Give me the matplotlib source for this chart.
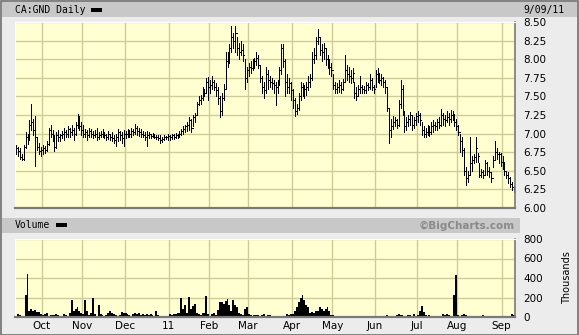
import numpy as np
import pandas as pd
import matplotlib
matplotlib.use("Agg")
import matplotlib.pyplot as plt
from matplotlib.patches import Rectangle

# trading days shown (one bar per business day)
dates = pd.bdate_range("2010-09-13", "2011-09-09")

high = [
    6.85, 6.82, 6.80, 6.72, 6.85, 7.02, 7.00, 7.18, 7.40, 7.20,
    7.24, 6.95, 6.88, 6.82, 6.85, 6.84, 6.90, 7.08, 7.12, 7.05,
    6.98, 7.02, 7.05, 7.00, 7.04, 7.08, 7.05, 7.10, 7.08, 7.12,
    7.08, 7.15, 7.26, 7.24, 7.15, 7.12, 7.06, 7.05, 7.08, 7.06,
    7.04, 7.05, 7.08, 7.02, 7.04, 7.06, 7.02, 7.00, 7.03, 7.00,
    7.02, 6.98, 7.00, 7.06, 7.04, 7.02, 7.05, 7.04, 7.06, 7.05,
    7.08, 7.06, 7.13, 7.10, 7.08, 7.06, 7.04, 7.02, 7.04, 7.02,
    7.00, 7.01, 7.00, 6.98, 6.98, 6.98, 6.96, 6.98, 6.97, 7.00,
    6.98, 7.00, 6.99, 7.01, 7.00, 7.03, 7.06, 7.10, 7.12, 7.15,
    7.22, 7.20, 7.25, 7.28, 7.43, 7.50, 7.52, 7.62, 7.60, 7.75,
    7.76, 7.72, 7.78, 7.72, 7.68, 7.62, 7.50, 7.55, 7.67, 8.10,
    8.10, 8.20, 8.45, 8.35, 8.45, 8.30, 8.22, 8.25, 8.20, 8.00,
    7.90, 7.95, 7.98, 8.00, 8.02, 8.10, 8.05, 7.92, 7.78, 7.70,
    7.90, 7.85, 7.78, 7.75, 7.72, 7.70, 7.72, 7.90, 8.20, 8.20,
    8.00, 7.80, 7.75, 7.70, 7.60, 7.48, 7.40, 7.55, 7.70, 7.68,
    7.65, 7.70, 7.78, 7.80, 8.10, 8.15, 8.30, 8.40, 8.30, 8.20,
    8.22, 8.15, 8.05, 8.00, 7.95, 7.80, 7.70, 7.68, 7.72, 7.70,
    7.74, 8.06, 7.92, 7.90, 7.85, 7.88, 7.70, 7.62, 7.65, 7.78,
    7.65, 7.64, 7.70, 7.68, 7.80, 7.75, 7.65, 7.85, 7.88, 7.82,
    7.80, 7.76, 7.72, 7.62, 7.35, 7.20, 7.24, 7.22, 7.20, 7.45,
    7.72, 7.65, 7.30, 7.22, 7.25, 7.29, 7.25, 7.22, 7.28, 7.30,
    7.28, 7.15, 7.10, 7.08, 7.12, 7.10, 7.15, 7.18, 7.15, 7.20,
    7.22, 7.33, 7.28, 7.25, 7.30, 7.28, 7.32, 7.30, 7.26, 7.20,
    7.12, 7.00, 6.95, 6.80, 6.55, 6.50, 6.95, 6.70, 6.72, 6.95,
    6.74, 6.60, 6.52, 6.51, 6.65, 6.62, 6.55, 6.48, 6.70, 6.90,
    6.80, 6.75, 6.74, 6.70, 6.62, 6.50, 6.48, 6.42, 6.35, 6.30,
]

low = [
    6.72, 6.70, 6.66, 6.65, 6.65, 6.80, 6.86, 6.92, 7.05, 6.98,
    6.56, 6.78, 6.72, 6.70, 6.72, 6.74, 6.76, 6.85, 6.95, 6.90,
    6.76, 6.80, 6.90, 6.90, 6.94, 6.92, 6.95, 6.96, 6.95, 6.98,
    6.92, 6.98, 7.08, 7.05, 6.98, 6.96, 6.95, 6.92, 6.95, 6.96,
    6.94, 6.95, 6.92, 6.93, 6.95, 6.96, 6.94, 6.92, 6.93, 6.92,
    6.90, 6.88, 6.84, 6.90, 6.92, 6.88, 6.83, 6.94, 6.95, 6.96,
    6.96, 6.98, 7.00, 6.98, 6.97, 6.95, 6.96, 6.92, 6.83, 6.94,
    6.94, 6.95, 6.94, 6.93, 6.92, 6.88, 6.89, 6.92, 6.93, 6.92,
    6.92, 6.93, 6.93, 6.94, 6.94, 6.95, 6.98, 7.00, 7.02, 7.04,
    7.05, 7.02, 7.10, 7.16, 7.25, 7.38, 7.40, 7.45, 7.50, 7.55,
    7.45, 7.55, 7.60, 7.58, 7.50, 7.40, 7.22, 7.25, 7.45, 7.60,
    7.90, 7.95, 8.10, 8.15, 8.10, 8.05, 8.00, 8.05, 7.98, 7.60,
    7.70, 7.78, 7.82, 7.85, 7.88, 7.92, 7.88, 7.70, 7.55, 7.48,
    7.55, 7.60, 7.62, 7.60, 7.55, 7.38, 7.55, 7.65, 7.80, 7.90,
    7.50, 7.55, 7.55, 7.45, 7.35, 7.24, 7.26, 7.32, 7.45, 7.50,
    7.48, 7.52, 7.58, 7.62, 7.72, 7.95, 8.00, 8.20, 8.05, 7.98,
    8.00, 7.92, 7.88, 7.80, 7.78, 7.60, 7.54, 7.55, 7.56, 7.55,
    7.58, 7.70, 7.72, 7.70, 7.68, 7.70, 7.48, 7.45, 7.50, 7.55,
    7.55, 7.55, 7.55, 7.58, 7.60, 7.58, 7.55, 7.62, 7.70, 7.68,
    7.65, 7.62, 7.55, 7.30, 6.88, 6.95, 7.06, 7.10, 7.08, 7.10,
    7.35, 7.25, 7.02, 7.05, 7.10, 7.12, 7.05, 7.08, 7.12, 7.15,
    7.12, 6.98, 6.95, 6.96, 6.98, 6.97, 7.00, 7.02, 7.05, 7.05,
    7.08, 7.10, 7.12, 7.10, 7.15, 7.12, 7.15, 7.18, 7.10, 7.05,
    6.98, 6.75, 6.70, 6.45, 6.31, 6.35, 6.45, 6.50, 6.60, 6.62,
    6.62, 6.42, 6.42, 6.40, 6.45, 6.45, 6.42, 6.35, 6.55, 6.65,
    6.66, 6.60, 6.56, 6.52, 6.45, 6.40, 6.34, 6.28, 6.24, 6.22,
]

close = [
    6.80, 6.76, 6.68, 6.66, 6.82, 6.95, 6.92, 7.12, 7.15, 7.05,
    6.95, 6.82, 6.76, 6.78, 6.80, 6.78, 6.86, 7.05, 7.00, 6.95,
    6.82, 6.98, 6.95, 6.98, 7.00, 7.02, 7.00, 7.06, 7.02, 7.05,
    7.00, 7.12, 7.18, 7.10, 7.05, 7.00, 7.02, 6.98, 7.04, 7.00,
    6.98, 7.00, 6.96, 6.98, 7.00, 7.02, 6.98, 6.96, 6.99, 6.95,
    6.94, 6.92, 6.95, 7.02, 6.98, 6.94, 7.00, 7.00, 7.02, 7.00,
    7.04, 7.02, 7.08, 7.04, 7.02, 7.00, 6.98, 6.96, 6.98, 6.99,
    6.97, 6.98, 6.96, 6.95, 6.94, 6.92, 6.93, 6.95, 6.96, 6.97,
    6.95, 6.98, 6.96, 6.98, 6.97, 7.00, 7.04, 7.06, 7.10, 7.12,
    7.18, 7.08, 7.22, 7.25, 7.40, 7.45, 7.48, 7.58, 7.55, 7.70,
    7.62, 7.65, 7.70, 7.62, 7.58, 7.48, 7.30, 7.48, 7.60, 7.98,
    8.05, 8.15, 8.30, 8.25, 8.35, 8.15, 8.10, 8.12, 8.05, 7.75,
    7.85, 7.90, 7.88, 7.95, 7.98, 8.02, 7.92, 7.75, 7.62, 7.58,
    7.80, 7.72, 7.70, 7.68, 7.65, 7.62, 7.68, 7.85, 8.15, 7.98,
    7.70, 7.62, 7.68, 7.58, 7.45, 7.30, 7.35, 7.50, 7.62, 7.58,
    7.60, 7.62, 7.70, 7.75, 8.00, 8.05, 8.25, 8.30, 8.12, 8.10,
    8.15, 8.00, 7.95, 7.90, 7.85, 7.65, 7.60, 7.62, 7.65, 7.60,
    7.70, 7.85, 7.80, 7.78, 7.75, 7.82, 7.55, 7.50, 7.60, 7.62,
    7.60, 7.58, 7.65, 7.62, 7.72, 7.62, 7.60, 7.80, 7.78, 7.72,
    7.75, 7.70, 7.62, 7.35, 7.05, 7.10, 7.15, 7.18, 7.12, 7.40,
    7.60, 7.30, 7.10, 7.15, 7.20, 7.25, 7.12, 7.18, 7.24, 7.25,
    7.18, 7.05, 7.00, 7.02, 7.05, 7.02, 7.10, 7.12, 7.10, 7.15,
    7.12, 7.25, 7.20, 7.18, 7.22, 7.20, 7.25, 7.24, 7.15, 7.10,
    7.02, 6.90, 6.78, 6.50, 6.40, 6.45, 6.60, 6.65, 6.68, 6.80,
    6.70, 6.45, 6.48, 6.45, 6.60, 6.50, 6.48, 6.40, 6.65, 6.75,
    6.72, 6.72, 6.62, 6.62, 6.50, 6.45, 6.40, 6.32, 6.28, 6.25,
]

# volume in thousands
volume = [
    15, 35, 20, 10, 15, 225, 445, 60, 80, 65,
    70, 55, 50, 30, 20, 35, 40, 15, 20, 25,
    25, 30, 20, 10, 15, 35, 20, 15, 40, 170,
    60, 80, 100, 60, 40, 30, 170, 60, 20, 40,
    195, 30, 15, 125, 30, 20, 15, 25, 40, 60,
    45, 30, 20, 15, 25, 55, 45, 40, 35, 20,
    15, 30, 45, 30, 40, 25, 30, 20, 35, 25,
    30, 20, 15, 60, 25, 15, 10, 10, 5, 5,
    30, 25, 35, 30, 45, 40, 195, 80, 120, 40,
    205, 80, 110, 135, 40, 30, 25, 40, 45, 215,
    30, 10, 35, 40, 20, 70, 150, 150, 135, 160,
    180, 120, 60, 170, 120, 100, 40, 30, 20, 80,
    105, 30, 20, 15, 20, 25, 20, 15, 20, 30,
    15, 25, 20, 10, 15, 10, 5, 5, 5, 10,
    15, 30, 20, 30, 35, 60, 100, 150, 190, 225,
    170, 120, 100, 40, 50, 45, 65, 60, 100, 80,
    60, 80, 100, 60, 20, 20, 15, 10, 5, 5,
    10, 5, 5, 5, 10, 5, 5, 10, 5, 5,
    10, 5, 5, 10, 5, 5, 5, 5, 10, 5,
    5, 10, 15, 20, 15, 10, 5, 10, 20, 30,
    25, 20, 10, 15, 25, 20, 10, 30, 15, 20,
    60, 110, 55, 20, 10, 25, 15, 10, 5, 5,
    10, 15, 35, 25, 35, 20, 10, 5, 225, 427,
    20, 15, 25, 30, 20, 10, 5, 5, 5, 5,
    10, 5, 5, 20, 5, 5, 5, 5, 5, 5,
    5, 5, 5, 5, 5, 10, 5, 5, 35, 20,
]

month_labels = ["Oct", "Nov", "Dec", "11", "Feb", "Mar", "Apr", "May",
                "Jun", "Jul", "Aug", "Sep"]
price_ticks = [6.00, 6.25, 6.50, 6.75, 7.00, 7.25, 7.50, 7.75, 8.00, 8.25, 8.50]
volume_ticks = [0, 200, 400, 600, 800]

W, H = 579, 335
BG = "#ECECEC"
BAR = "#C8C8C8"
PLOT_BG = "#FFFFD2"
GRID = "#CCCC99"


def box(x0, y0, x1, y1):
    # pixel box (top-left origin) -> figure fraction rect
    return [x0 / W, 1 - y1 / H, (x1 - x0) / W, (y1 - y0) / H]


def fig_rect(fig, x0, y0, x1, y1, color, **kw):
    l, b, w, h = box(x0, y0, x1, y1)
    fig.patches.append(Rectangle((l, b), w, h, transform=fig.transFigure,
                                 facecolor=color, edgecolor="none", **kw))


x = np.arange(len(dates))
month_idx = [i for i in range(1, len(dates)) if dates[i].month != dates[i - 1].month]
month_pos = [i - 0.5 for i in month_idx]

fig = plt.figure(figsize=(W / 100, H / 100), dpi=100)
fig.patch.set_facecolor(BG)

# header bars
fig_rect(fig, 2, 2, 577, 17, BAR)
fig_rect(fig, 2, 218, 520, 233, BAR)
fig_rect(fig, 91, 8, 102, 12, "black")
fig_rect(fig, 56, 223, 67, 227, "black")

# outer frame
fig.patches.append(Rectangle((0.5 / W, 0.5 / H), 1 - 1.5 / W, 1 - 1.5 / H,
                             transform=fig.transFigure, facecolor="none",
                             edgecolor="#707070", lw=1.2))

fig.text(15 / W, 1 - 10 / H, "CA:GND Daily", family="DejaVu Sans Mono",
         size=7, va="center", ha="left")
fig.text(565 / W, 1 - 10 / H, "9/09/11", family="DejaVu Sans Mono",
         size=7, va="center", ha="right")
fig.text(15 / W, 1 - 225.5 / H, "Volume", family="DejaVu Sans Mono",
         size=7, va="center", ha="left")
fig.text(515 / W, 1 - 225.5 / H, "\u00a9BigCharts.com", size=7.5,
         weight="bold", color="#8A8A8A", va="center", ha="right")

ax = fig.add_axes(box(15, 22, 515, 208))
axv = fig.add_axes(box(15, 239, 515, 317))

for a in (ax, axv):
    a.set_facecolor(PLOT_BG)
    a.set_xlim(-0.5, len(dates) - 0.5)
    a.set_xticks(month_pos)
    a.grid(True, color=GRID, lw=1.0)
    a.set_axisbelow(True)
    a.yaxis.tick_right()
    a.tick_params(length=0, labelsize=7.5, colors="black")
    a.spines["top"].set_color("white")
    a.spines["left"].set_color("white")
    a.spines["bottom"].set_color("#7A7A7A")
    a.spines["right"].set_color("#7A7A7A")
    a.spines["bottom"].set_linewidth(1.6)
    a.spines["right"].set_linewidth(1.2)

# price bars (high-low with close tick)
ax.vlines(x, low, high, colors="black", lw=0.5, antialiased=False)
ax.hlines(close, x, x + 0.8, colors="black", lw=0.5, antialiased=False)
ax.set_ylim(6.0, 8.5)
ax.set_yticks(price_ticks)
ax.set_yticklabels([f"{v:.2f}" for v in price_ticks])
ax.tick_params(axis="y", pad=6)
ax.tick_params(axis="x", labelbottom=False)

# volume
axv.bar(x, volume, width=1.0, color="black", lw=0)
axv.set_ylim(0, 800)
axv.set_yticks(volume_ticks)
axv.set_yticklabels([str(v) for v in volume_ticks])
axv.tick_params(axis="y", pad=6)
axv.set_xticklabels(month_labels)
axv.tick_params(axis="x", pad=3)
axv.yaxis.set_label_position("right")
axv.set_ylabel("Thousands", size=7, labelpad=14)

fig.savefig("out.png", dpi=100, facecolor=fig.get_facecolor())
